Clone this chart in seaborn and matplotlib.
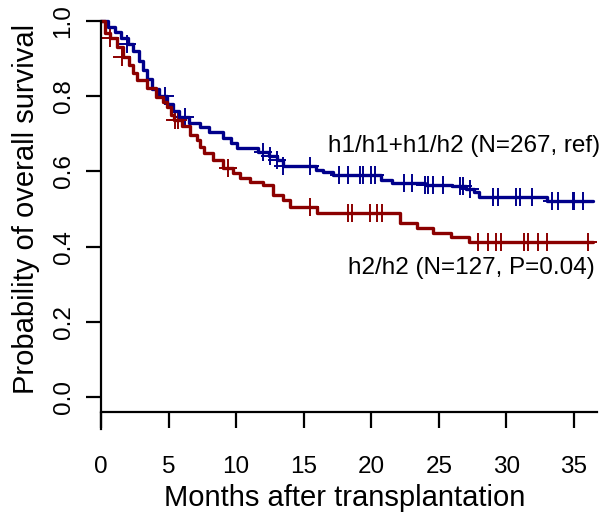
# Kaplan-Meier style survival curves, two genotype groups.

import numpy as np
import matplotlib
matplotlib.use("Agg")
import matplotlib.pyplot as plt
import seaborn as sns

# h1/h1+h1/h2 group: step times (months) and survival after each step
ref_time = [0, 0.5, 1.0, 1.5, 2.0, 2.4, 2.8, 3.1, 3.4, 3.8, 4.3, 4.9, 5.3, 5.8, 6.5,
            7.3, 8.0, 9.0, 9.6, 10.1, 11.6, 12.4, 13.0, 13.5, 15.9, 16.4, 17.2,
            20.7, 21.5, 24.0, 26.0, 27.0, 27.6, 28.0, 33.0, 36.4]
ref_surv = [1.0, 0.985, 0.97, 0.955, 0.94, 0.92, 0.895, 0.87, 0.845, 0.82, 0.80, 0.78,
            0.76, 0.745, 0.73, 0.718, 0.705, 0.69, 0.675, 0.662, 0.652, 0.64, 0.63,
            0.615, 0.605, 0.598, 0.59, 0.577, 0.57, 0.565, 0.56, 0.553, 0.545, 0.532,
            0.521, 0.521]
ref_cens_t = [1.9, 4.7, 6.2, 12.0, 12.5, 13.0, 13.5, 15.5, 17.6, 18.3, 19.2, 19.4, 20.0,
              20.3, 22.4, 23.0, 24.0, 24.2, 24.6, 25.3, 26.6, 26.8, 27.3, 29.0, 29.4,
              30.7, 31.0, 31.9, 33.4, 33.8, 34.9, 35.0, 35.7]
ref_cens_s = [0.94, 0.80, 0.745, 0.652, 0.64, 0.63, 0.615, 0.615, 0.59, 0.59, 0.59, 0.59,
              0.59, 0.59, 0.57, 0.57, 0.565, 0.565, 0.565, 0.565, 0.56, 0.56, 0.553,
              0.532, 0.532, 0.532, 0.532, 0.532, 0.521, 0.521, 0.521, 0.521, 0.521]

# h2/h2 group
h2_time = [0, 0.3, 0.7, 1.2, 1.6, 2.1, 2.4, 2.7, 3.4, 4.1, 4.6, 4.9, 5.2, 5.4, 6.0, 6.6,
           7.1, 7.3, 7.6, 8.3, 9.0, 9.8, 10.3, 11.0, 12.0, 12.7, 13.5, 14.0, 16.0, 22.1,
           23.4, 24.6, 25.9, 27.2, 36.4]
h2_surv = [1.0, 0.968, 0.955, 0.93, 0.905, 0.883, 0.862, 0.843, 0.822, 0.798, 0.785,
           0.771, 0.75, 0.737, 0.72, 0.697, 0.683, 0.665, 0.649, 0.63, 0.609, 0.595,
           0.582, 0.572, 0.564, 0.537, 0.524, 0.505, 0.49, 0.463, 0.449, 0.436, 0.426,
           0.412, 0.412]
h2_cens_t = [0.7, 1.55, 5.5, 5.7, 9.4, 15.5, 18.3, 18.6, 19.9, 20.4, 20.8, 27.9, 28.6,
             29.2, 29.6, 31.3, 31.6, 32.3, 33.0, 36.0]
h2_cens_s = [0.955, 0.905, 0.737, 0.737, 0.609, 0.505, 0.49, 0.49, 0.49, 0.49, 0.49,
             0.412, 0.412, 0.412, 0.412, 0.412, 0.412, 0.412, 0.412, 0.412]

blue = "#00008B"
red = "#8B0000"

sns.set_style("ticks")
plt.rcParams['font.family'] = ['Liberation Sans', 'DejaVu Sans']
plt.rcParams['text.color'] = 'black'
plt.rcParams['axes.labelcolor'] = 'black'
plt.rcParams['xtick.color'] = 'black'
plt.rcParams['ytick.color'] = 'black'

fig = plt.figure(figsize=(6.03, 5.19), dpi=100)
ax = fig.add_axes([0.1675, 0.1734, 0.8225, 0.815])

sns.lineplot(x=ref_time, y=ref_surv, drawstyle='steps-post', estimator=None, sort=False,
             color=blue, linewidth=2.4, ax=ax, clip_on=False)
sns.scatterplot(x=ref_cens_t, y=ref_cens_s, marker='+', s=170, color=blue,
                linewidth=1.4, ax=ax, clip_on=False)
sns.lineplot(x=h2_time, y=h2_surv, drawstyle='steps-post', estimator=None, sort=False,
             color=red, linewidth=2.4, ax=ax, clip_on=False)
sns.scatterplot(x=h2_cens_t, y=h2_cens_s, marker='+', s=170, color=red,
                linewidth=1.4, ax=ax, clip_on=False)

ax.set_xlim(0, 36.7)
ax.set_ylim(-0.085, 1.04)
ax.set_xticks(range(0, 36, 5))
ax.set_yticks([0.0, 0.2, 0.4, 0.6, 0.8, 1.0])
ax.set_yticklabels(["0.0", "0.2", "0.4", "0.6", "0.8", "1.0"], rotation=90, va='center')

for side in ['top', 'right']:
    ax.spines[side].set_visible(False)
ax.spines['bottom'].set_position(('data', -0.04))
ax.spines['left'].set_bounds(-0.085, 1.0)
for side in ['left', 'bottom']:
    ax.spines[side].set_linewidth(1.6)
    ax.spines[side].set_color('black')

ax.tick_params(axis='x', length=11.5, width=1.6, pad=20, labelsize=17.5)
ax.tick_params(axis='y', length=11, width=1.6, pad=8, labelsize=17.5)

ax.set_xlabel("Months after transplantation", fontsize=21)
ax.set_ylabel("Probability of overall survival", fontsize=21)
ax.xaxis.set_label_coords(0.492, -0.13)
ax.yaxis.set_label_coords(-0.123, 0.52)

ax.text(26.9, 0.668, "h1/h1+h1/h2 (N=267, ref)", fontsize=17.5, ha='center', va='center')
ax.text(27.4, 0.343, "h2/h2 (N=127, P=0.04)", fontsize=17.5, ha='center', va='center')

fig.savefig("out.png", dpi=100)
